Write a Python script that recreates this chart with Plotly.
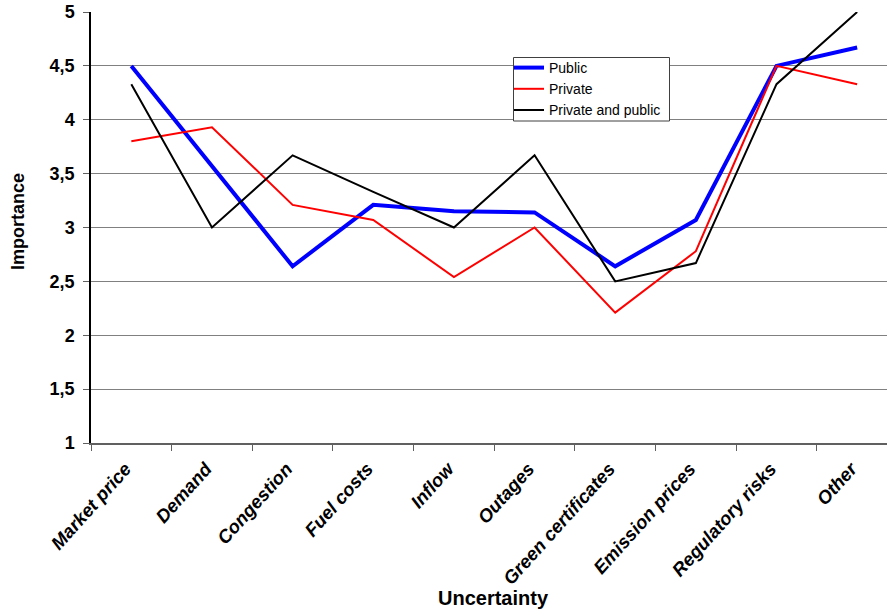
import plotly.graph_objects as go

# Uncertainty categories on the x axis
categories = ["Market price", "Demand", "Congestion", "Fuel costs", "Inflow",
              "Outages", "Green certificates", "Emission prices",
              "Regulatory risks", "Other"]

# Mean importance scores per respondent group
public = [4.50, 3.57, 2.64, 3.21, 3.15, 3.14, 2.64, 3.07, 4.50, 4.67]
private = [3.80, 3.93, 3.21, 3.07, 2.54, 3.00, 2.21, 2.78, 4.50, 4.33]
private_and_public = [4.33, 3.00, 3.67, 3.33, 3.00, 3.67, 2.50, 2.67, 4.33, 5.00]

# Y axis ticks with decimal comma
y_tickvals = [1, 1.5, 2, 2.5, 3, 3.5, 4, 4.5, 5]
y_ticktext = ["1", "1,5", "2", "2,5", "3", "3,5", "4", "4,5", "5"]

FONT = "Liberation Sans, Arial, sans-serif"

# plot area in pixels (for paper-coordinate conversions)
L, R, T, B = 91, 887, 12, 443
PW, PH = R - L, B - T


def px(x):
    return (x - L) / PW


def py(y):
    return (B - y) / PH


fig = go.Figure()
fig.add_trace(go.Scatter(x=categories, y=public, mode="lines", name="Public",
                         line=dict(color="#0000ff", width=4)))
fig.add_trace(go.Scatter(x=categories, y=private, mode="lines", name="Private",
                         line=dict(color="#ff0000", width=2)))
fig.add_trace(go.Scatter(x=categories, y=private_and_public, mode="lines",
                         name="Private and public",
                         line=dict(color="#000000", width=2)))

fig.update_layout(
    width=887, height=612,
    margin=dict(l=L, r=887 - R, t=T, b=612 - B),
    paper_bgcolor="white", plot_bgcolor="white",
    font=dict(family=FONT, color="black"),
    showlegend=True,
    legend=dict(
        x=px(509), y=py(52), xanchor="left", yanchor="top",
        bgcolor="rgba(0,0,0,0)", borderwidth=0,
        font=dict(family=FONT, size=14, color="black"),
        tracegroupgap=0, itemwidth=30,
    ),
    shapes=[
        # legend frame
        dict(type="rect", xref="paper", yref="paper", layer="above",
             x0=px(513.5), x1=px(669.5), y0=py(121), y1=py(57.5),
             fillcolor="white", line=dict(color="#404040", width=1)),
    ],
    xaxis=dict(
        type="category", range=[-0.5, 9.37],
        showgrid=False, showline=True, linecolor="#606060", linewidth=1.5,
        ticks="outside", tickson="boundaries", ticklen=6, tickcolor="#606060",
        tickangle=-48, ticklabelstandoff=6, ticklabelshift=-6,
        tickfont=dict(family=FONT, size=18.5, weight="bold", style="italic",
                      color="black"),
        zeroline=False,
    ),
    yaxis=dict(
        range=[1, 5], tickvals=y_tickvals, ticktext=y_ticktext,
        showgrid=True, gridcolor="#808080", gridwidth=1,
        showline=True, linecolor="black", linewidth=1.5,
        ticks="outside", ticklen=6, tickcolor="#606060",
        ticklabelstandoff=5,
        tickfont=dict(family=FONT, size=18, weight="bold", color="black"),
        zeroline=False,
    ),
    annotations=[
        dict(text="Uncertainty", xref="paper", yref="paper",
             x=px(493), y=py(598), xanchor="center", yanchor="middle",
             showarrow=False,
             font=dict(family=FONT, size=20, weight="bold", color="black")),
        dict(text="Importance", xref="paper", yref="paper",
             x=px(18), y=py(222), xanchor="center", yanchor="middle",
             textangle=-90, showarrow=False,
             font=dict(family=FONT, size=18, weight="bold", color="black")),
    ],
)

fig.write_html("out.html")
